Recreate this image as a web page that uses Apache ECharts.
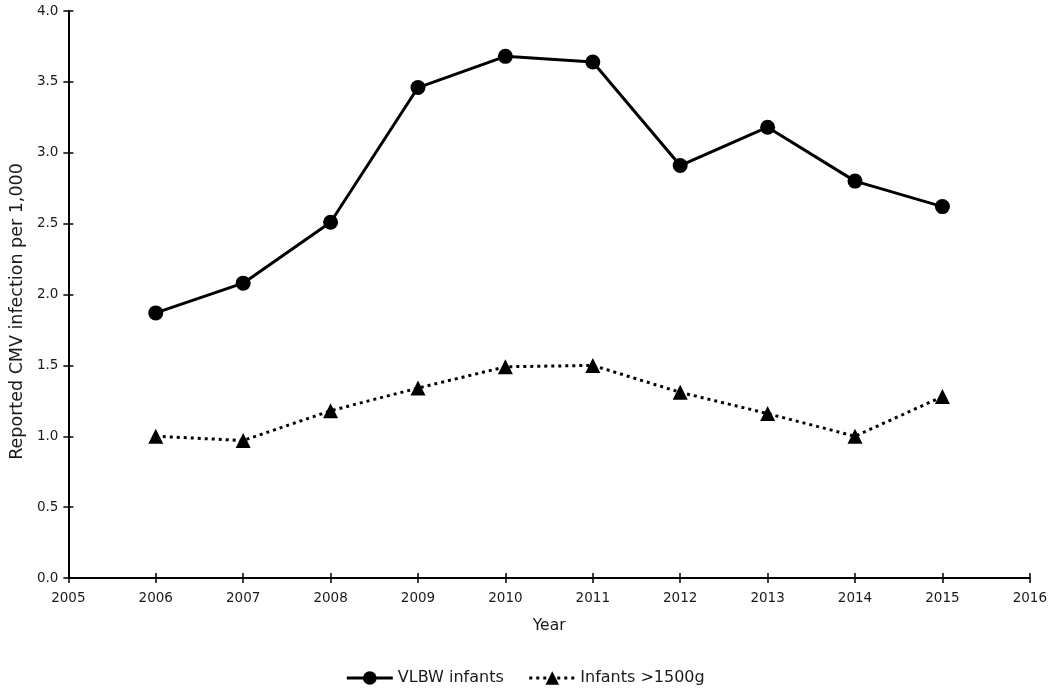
<!DOCTYPE html>
<html>
<head>
<meta charset="utf-8">
<script src="https://cdn.jsdelivr.net/npm/echarts@6/dist/echarts.min.js"></script>
<style>
html,body{margin:0;padding:0;background:#fff;}
#chart{width:1050px;height:696px;}
</style>
</head>
<body>
<div id="chart"></div>
<script>
const years = [2006, 2007, 2008, 2009, 2010, 2011, 2012, 2013, 2014, 2015];
const vlbwInfants = [1.87, 2.08, 2.51, 3.46, 3.68, 3.64, 2.91, 3.18, 2.80, 2.62];
const infantsOver1500g = [1.00, 0.97, 1.18, 1.34, 1.49, 1.50, 1.31, 1.16, 1.00, 1.28];
const seriesNames = ['VLBW infants', 'Infants >1500g'];
const xName = 'Year';
const yName = 'Reported CMV infection per 1,000';

const font = 'DejaVu Sans';
const txt = '#1a1a1a';
const chart = echarts.init(document.getElementById('chart'));

const baseX = {
  type: 'value', min: 2005, max: 2016, interval: 1,
  splitLine: { show: false }
};
const baseY = {
  type: 'value', min: 0, max: 4, interval: 0.5,
  splitLine: { show: false }
};

chart.setOption({
  backgroundColor: '#fff',
  animation: false,
  textStyle: { fontFamily: font, color: txt },
  grid: { left: 64, right: 19, top: 11, bottom: 118, containLabel: false },
  legend: {
    top: 665,
    left: 'center',
    itemWidth: 46,
    itemHeight: 17,
    itemGap: 24,
    lineStyle: { width: 3 },
    textStyle: { fontFamily: font, fontSize: 16, color: txt },
    data: seriesNames
  },
  xAxis: [
    Object.assign({}, baseX, {
      name: xName,
      nameLocation: 'middle',
      nameGap: 40,
      nameTextStyle: { fontFamily: font, fontSize: 15.5, color: txt },
      axisLine: { onZero: false, lineStyle: { color: '#000', width: 2 } },
      axisTick: { show: true, length: 5, lineStyle: { color: '#000', width: 1.5 } },
      axisLabel: { fontFamily: font, fontSize: 13.5, color: txt, margin: 13, formatter: v => String(v) }
    }),
    Object.assign({}, baseX, {
      position: 'bottom',
      axisLine: { show: false, onZero: false },
      axisTick: { show: true, inside: true, length: 5, lineStyle: { color: '#000', width: 1.5 } },
      axisLabel: { show: false }
    })
  ],
  yAxis: [
    Object.assign({}, baseY, {
      name: yName,
      nameLocation: 'middle',
      nameGap: 37,
      nameTextStyle: { fontFamily: font, fontSize: 17.5, color: txt, padding: [0, 34, 0, 0] },
      axisLine: { show: true, lineStyle: { color: '#000', width: 2 } },
      axisTick: { show: true, length: 5, lineStyle: { color: '#000', width: 1.5 } },
      axisLabel: { fontFamily: font, fontSize: 13.5, color: txt, margin: 10, formatter: v => v.toFixed(1) }
    }),
    Object.assign({}, baseY, {
      position: 'left',
      axisLine: { show: false },
      axisTick: { show: true, inside: true, length: 5, lineStyle: { color: '#000', width: 1.5 } },
      axisLabel: { show: false }
    })
  ],
  series: [
    {
      name: seriesNames[0],
      type: 'line',
      data: years.map((y, i) => [y, vlbwInfants[i]]),
      symbol: 'circle',
      symbolSize: 15,
      itemStyle: { color: '#000' },
      lineStyle: { color: '#000', width: 3 }
    },
    {
      name: seriesNames[1],
      type: 'line',
      data: years.map((y, i) => [y, infantsOver1500g[i]]),
      symbol: 'triangle',
      symbolSize: 15,
      itemStyle: { color: '#000' },
      lineStyle: { color: '#000', width: 3, type: [3, 4] }
    }
  ]
});
</script>
</body>
</html>
